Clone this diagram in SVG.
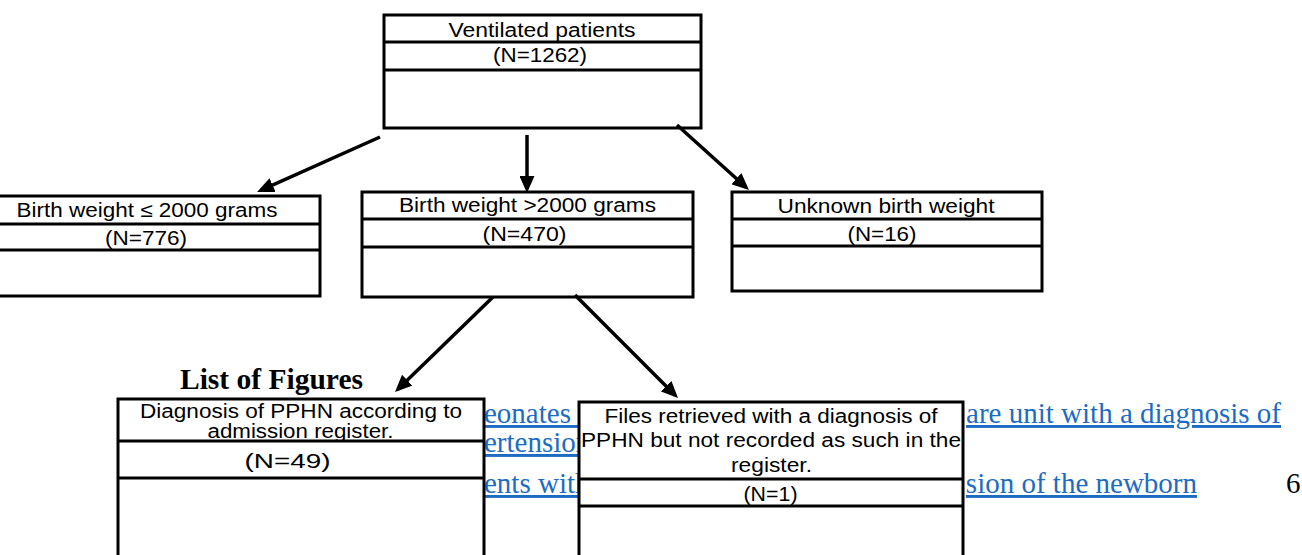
<svg xmlns="http://www.w3.org/2000/svg" width="1302" height="555" viewBox="0 0 1302 555">
<style>
.box{fill:#fff;stroke:#000;stroke-width:3}
.div{stroke:#000;stroke-width:3}
.t{font-family:"Liberation Sans",Arial,Helvetica,sans-serif;font-size:20px;fill:#000;text-anchor:middle}
.link{font-family:"Liberation Serif","Times New Roman",serif;font-size:29px;fill:#1c6cc4;text-decoration:underline}
.doc{font-family:"Liberation Serif","Times New Roman",serif;font-size:29px;fill:#000}
.arr{stroke:#000;stroke-width:3.5;fill:none;marker-end:url(#ah)}
</style>
<defs>
<marker id="ah" viewBox="0 0 17 15" refX="13" refY="7.5" markerWidth="17" markerHeight="15" markerUnits="userSpaceOnUse" orient="auto">
<path d="M0,0 L17,7.5 L0,15 z" fill="#000"/>
</marker>
</defs>
<rect width="1302" height="555" fill="#fff"/>
<g id="background-text">
<text class="doc" x="180" y="389" font-size="30" font-weight="bold" textLength="183" lengthAdjust="spacingAndGlyphs">List of Figures</text>
<text class="link" x="484" y="423">eonates a</text>
<text class="link" x="1281" y="423" text-anchor="end">are unit with a diagnosis of</text>
<text class="link" x="484" y="452">ertension</text>
<text class="link" x="484" y="493">ents with</text>
<text class="link" x="1197" y="493" text-anchor="end">sion of the newborn</text>
<text class="doc" x="1286" y="493">6</text>
</g>
<g id="node-ventilated">
<rect class="box" x="384" y="15" width="317" height="113"/>
<line class="div" x1="384" y1="42" x2="701" y2="42"/>
<line class="div" x1="384" y1="70" x2="701" y2="70"/>
<text class="t" x="542" y="37" textLength="187" lengthAdjust="spacingAndGlyphs">Ventilated patients</text>
<text class="t" x="540" y="62" textLength="94" lengthAdjust="spacingAndGlyphs">(N=1262)</text>
</g>
<g id="node-bw-low">
<rect class="box" x="-26" y="196" width="346" height="100"/>
<line class="div" x1="-26" y1="224" x2="320" y2="224"/>
<line class="div" x1="-26" y1="250" x2="320" y2="250"/>
<text class="t" x="147" y="217" textLength="261" lengthAdjust="spacingAndGlyphs">Birth weight ≤ 2000 grams</text>
<text class="t" x="146" y="245" textLength="82" lengthAdjust="spacingAndGlyphs">(N=776)</text>
</g>
<g id="node-bw-high">
<rect class="box" x="362" y="192" width="331" height="105"/>
<line class="div" x1="362" y1="219" x2="693" y2="219"/>
<line class="div" x1="362" y1="247" x2="693" y2="247"/>
<text class="t" x="527.5" y="212" textLength="257" lengthAdjust="spacingAndGlyphs">Birth weight &gt;2000 grams</text>
<text class="t" x="524.5" y="241" textLength="84" lengthAdjust="spacingAndGlyphs">(N=470)</text>
</g>
<g id="node-bw-unknown">
<rect class="box" x="732" y="192" width="310" height="99"/>
<line class="div" x1="732" y1="219" x2="1042" y2="219"/>
<line class="div" x1="732" y1="246" x2="1042" y2="246"/>
<text class="t" x="886" y="213" textLength="217" lengthAdjust="spacingAndGlyphs">Unknown birth weight</text>
<text class="t" x="882" y="241" textLength="69" lengthAdjust="spacingAndGlyphs">(N=16)</text>
</g>
<g id="node-pphn-register">
<rect class="box" x="118" y="399" width="366" height="170"/>
<line class="div" x1="118" y1="441" x2="484" y2="441"/>
<line class="div" x1="118" y1="478" x2="484" y2="478"/>
<text class="t" font-size="18"><tspan x="301" y="418" textLength="322" lengthAdjust="spacingAndGlyphs">Diagnosis of PPHN according to</tspan><tspan x="300.5" y="438" textLength="186" lengthAdjust="spacingAndGlyphs">admission register.</tspan></text>
<text class="t" x="287.5" y="468" font-size="21" textLength="86" lengthAdjust="spacingAndGlyphs">(N=49)</text>
</g>
<g id="node-pphn-files">
<rect class="box" x="579" y="402" width="384" height="170"/>
<line class="div" x1="579" y1="479" x2="963" y2="479"/>
<line class="div" x1="579" y1="506" x2="963" y2="506"/>
<text class="t"><tspan x="771" y="422.5" textLength="333" lengthAdjust="spacingAndGlyphs">Files retrieved with a diagnosis of</tspan><tspan x="771" y="447" textLength="380" lengthAdjust="spacingAndGlyphs">PPHN but not recorded as such in the</tspan><tspan x="771.5" y="471.5" textLength="81" lengthAdjust="spacingAndGlyphs">register.</tspan></text>
<text class="t" x="770.5" y="501" textLength="54" lengthAdjust="spacingAndGlyphs">(N=1)</text>
</g>
<g id="connectors">
<line class="arr" x1="380" y1="137" x2="260.7" y2="190.4"/>
<line class="arr" x1="527" y1="135" x2="527" y2="189"/>
<line class="arr" x1="677" y1="125" x2="746" y2="187.3"/>
<line class="arr" x1="493" y1="297" x2="397.9" y2="389.2"/>
<line class="arr" x1="575" y1="295" x2="675.2" y2="395.2"/>
</g>
</svg>
